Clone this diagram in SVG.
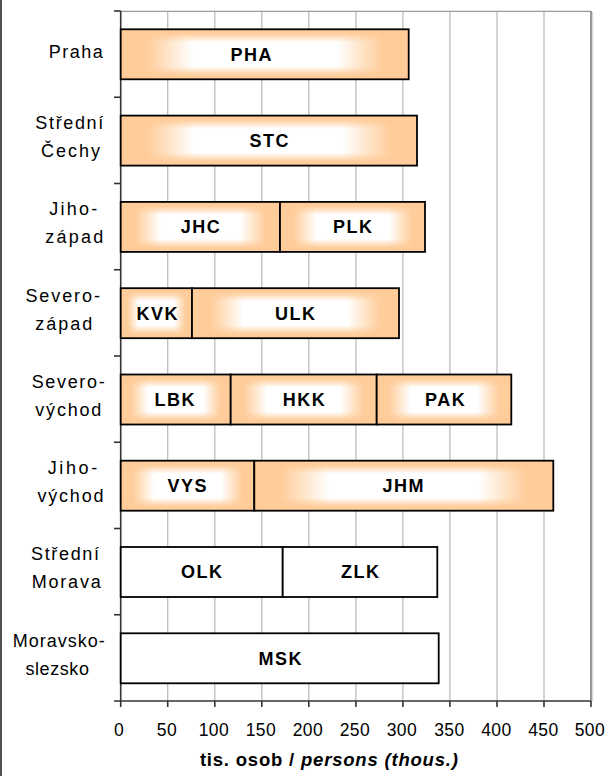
<svg xmlns="http://www.w3.org/2000/svg" width="612" height="776" viewBox="0 0 612 776">
<style>
text{font-family:"Liberation Sans",Arial,sans-serif;fill:#000}
.cat{font-size:18px;text-anchor:middle}
.num{font-size:17.5px;text-anchor:middle;letter-spacing:0.5px}
.lbl{font-size:18px;font-weight:bold;text-anchor:middle;letter-spacing:1.5px}
.title{font-size:18.5px;font-weight:bold;text-anchor:middle;letter-spacing:0.8px}
.grid line{stroke:#BDBDBD;stroke-width:1.3}
.base{fill:url(#gh)}
.over{fill:url(#gv);stroke:#000;stroke-width:1.8}
.plain{fill:#fff;stroke:#000;stroke-width:1.8}
.axis line{stroke:#333;stroke-width:1.6}
</style>
<defs>
<linearGradient id="gh" x1="0" y1="0" x2="1" y2="0">
<stop offset="0" stop-color="#FFCC99"/>
<stop offset="0.09" stop-color="#FFCD9B"/>
<stop offset="0.17" stop-color="#FFE6CC"/>
<stop offset="0.25" stop-color="#FFFFFF"/>
<stop offset="0.75" stop-color="#FFFFFF"/>
<stop offset="0.83" stop-color="#FFE6CC"/>
<stop offset="0.91" stop-color="#FFCD9B"/>
<stop offset="1" stop-color="#FFCC99"/>
</linearGradient>
<linearGradient id="gv" x1="0" y1="0" x2="0" y2="1">
<stop offset="0" stop-color="#FFCC99" stop-opacity="1"/>
<stop offset="0.09" stop-color="#FFCC99" stop-opacity="0.95"/>
<stop offset="0.26" stop-color="#FFCC99" stop-opacity="0"/>
<stop offset="0.74" stop-color="#FFCC99" stop-opacity="0"/>
<stop offset="0.91" stop-color="#FFCC99" stop-opacity="0.95"/>
<stop offset="1" stop-color="#FFCC99" stop-opacity="1"/>
</linearGradient>
</defs>
<rect x="0" y="0" width="612" height="776" fill="#fff"/>
<line x1="1" y1="0" x2="1" y2="776" stroke="#505050" stroke-width="2"/>

<g id="plot-frame">
<g class="grid">
<line x1="167.7" y1="11" x2="167.7" y2="701"/>
<line x1="214.8" y1="11" x2="214.8" y2="701"/>
<line x1="261.8" y1="11" x2="261.8" y2="701"/>
<line x1="308.8" y1="11" x2="308.8" y2="701"/>
<line x1="355.9" y1="11" x2="355.9" y2="701"/>
<line x1="402.9" y1="11" x2="402.9" y2="701"/>
<line x1="449.9" y1="11" x2="449.9" y2="701"/>
<line x1="497.0" y1="11" x2="497.0" y2="701"/>
<line x1="544.0" y1="11" x2="544.0" y2="701"/>
</g>
<line x1="120.7" y1="11.3" x2="591" y2="11.3" stroke="#9A9A9A" stroke-width="1.2"/>
<line x1="592.6" y1="12" x2="592.6" y2="701" stroke="#D8D8D8" stroke-width="1.2"/>
<line x1="591" y1="11" x2="591" y2="701" stroke="#808080" stroke-width="1.6"/>
</g>

<g id="axes" class="axis">
<line x1="120.7" y1="11" x2="120.7" y2="701"/>
<line x1="114" y1="701" x2="591" y2="701"/>
<line x1="114" y1="11" x2="120.7" y2="11"/>
<line x1="114" y1="97.25" x2="120.7" y2="97.25"/>
<line x1="114" y1="183.5" x2="120.7" y2="183.5"/>
<line x1="114" y1="269.75" x2="120.7" y2="269.75"/>
<line x1="114" y1="356" x2="120.7" y2="356"/>
<line x1="114" y1="442.25" x2="120.7" y2="442.25"/>
<line x1="114" y1="528.5" x2="120.7" y2="528.5"/>
<line x1="114" y1="614.75" x2="120.7" y2="614.75"/>
<line x1="120.7" y1="701" x2="120.7" y2="707"/>
<line x1="167.7" y1="701" x2="167.7" y2="707"/>
<line x1="214.8" y1="701" x2="214.8" y2="707"/>
<line x1="261.8" y1="701" x2="261.8" y2="707"/>
<line x1="308.8" y1="701" x2="308.8" y2="707"/>
<line x1="355.9" y1="701" x2="355.9" y2="707"/>
<line x1="402.9" y1="701" x2="402.9" y2="707"/>
<line x1="449.9" y1="701" x2="449.9" y2="707"/>
<line x1="497.0" y1="701" x2="497.0" y2="707"/>
<line x1="544.0" y1="701" x2="544.0" y2="707"/>
<line x1="591" y1="701" x2="591" y2="707"/>
</g>

<g id="connectors"></g>

<g id="seg-PHA"><rect class="base" x="120.7" y="29.3" width="288" height="50"/><rect class="over" x="120.7" y="29.3" width="288" height="50"/><text class="lbl" x="251.7" y="60.6">PHA</text></g>
<g id="seg-STC"><rect class="base" x="120.7" y="115.6" width="296.3" height="50"/><rect class="over" x="120.7" y="115.6" width="296.3" height="50"/><text class="lbl" x="269.7" y="146.9">STC</text></g>
<g id="seg-JHC"><rect class="base" x="120.7" y="201.9" width="159.3" height="50"/><rect class="over" x="120.7" y="201.9" width="159.3" height="50"/><text class="lbl" x="201" y="233.2">JHC</text></g>
<g id="seg-PLK"><rect class="base" x="280" y="201.9" width="145" height="50"/><rect class="over" x="280" y="201.9" width="145" height="50"/><text class="lbl" x="353.2" y="233.2">PLK</text></g>
<g id="seg-KVK"><rect class="base" x="120.7" y="288.2" width="71.3" height="50"/><rect class="over" x="120.7" y="288.2" width="71.3" height="50"/><text class="lbl" x="157.7" y="319.5">KVK</text></g>
<g id="seg-ULK"><rect class="base" x="192" y="288.2" width="207" height="50"/><rect class="over" x="192" y="288.2" width="207" height="50"/><text class="lbl" x="295.7" y="319.5">ULK</text></g>
<g id="seg-LBK"><rect class="base" x="120.7" y="374.5" width="110" height="50"/><rect class="over" x="120.7" y="374.5" width="110" height="50"/><text class="lbl" x="175.2" y="405.8">LBK</text></g>
<g id="seg-HKK"><rect class="base" x="230.7" y="374.5" width="146" height="50"/><rect class="over" x="230.7" y="374.5" width="146" height="50"/><text class="lbl" x="304.4" y="405.8">HKK</text></g>
<g id="seg-PAK"><rect class="base" x="376.7" y="374.5" width="134.6" height="50"/><rect class="over" x="376.7" y="374.5" width="134.6" height="50"/><text class="lbl" x="445.7" y="405.8">PAK</text></g>
<g id="seg-VYS"><rect class="base" x="120.7" y="460.7" width="133.6" height="50"/><rect class="over" x="120.7" y="460.7" width="133.6" height="50"/><text class="lbl" x="187.7" y="492">VYS</text></g>
<g id="seg-JHM"><rect class="base" x="254.3" y="460.7" width="299" height="50"/><rect class="over" x="254.3" y="460.7" width="299" height="50"/><text class="lbl" x="403.7" y="492">JHM</text></g>
<g id="seg-OLK"><rect class="plain" x="120.7" y="547" width="162" height="50"/><text class="lbl" x="202.2" y="578.3">OLK</text></g>
<g id="seg-ZLK"><rect class="plain" x="282.7" y="547" width="154.6" height="50"/><text class="lbl" x="360.7" y="578.3">ZLK</text></g>
<g id="seg-MSK"><rect class="plain" x="120.7" y="633.3" width="318" height="50"/><text class="lbl" x="280.7" y="664.6">MSK</text></g>

<g id="cat-praha"><text class="cat" x="75.7" y="57.7" textLength="54" lengthAdjust="spacing">Praha</text></g>
<g id="cat-stredni-cechy"><text class="cat" x="69.3" y="129.1" textLength="68" lengthAdjust="spacing">Střední</text><text class="cat" x="70.5" y="157.1" textLength="59" lengthAdjust="spacing">Čechy</text></g>
<g id="cat-jihozapad"><text class="cat" x="73.3" y="215.3" textLength="48" lengthAdjust="spacing">Jiho-</text><text class="cat" x="74.3" y="243.3" textLength="58" lengthAdjust="spacing">západ</text></g>
<g id="cat-severozapad"><text class="cat" x="62.7" y="301.6" textLength="74.5" lengthAdjust="spacing">Severo-</text><text class="cat" x="63.8" y="329.6" textLength="57" lengthAdjust="spacing">západ</text></g>
<g id="cat-severovychod"><text class="cat" x="68.2" y="387.8" textLength="73" lengthAdjust="spacing">Severo-</text><text class="cat" x="68.3" y="415.8" textLength="66" lengthAdjust="spacing">východ</text></g>
<g id="cat-jihovychod"><text class="cat" x="72.5" y="474.1" textLength="49.5" lengthAdjust="spacing">Jiho-</text><text class="cat" x="70.5" y="502.1" textLength="66" lengthAdjust="spacing">východ</text></g>
<g id="cat-stredni-morava"><text class="cat" x="65" y="560.3" textLength="68" lengthAdjust="spacing">Střední</text><text class="cat" x="66.2" y="588.3" textLength="69" lengthAdjust="spacing">Morava</text></g>
<g id="cat-moravskoslezsko"><text class="cat" x="58.7" y="646.6" textLength="92" lengthAdjust="spacing">Moravsko-</text><text class="cat" x="57.2" y="674.6" textLength="63.5" lengthAdjust="spacing">slezsko</text></g>

<g id="x-labels">
<text class="num" x="119" y="735.5">0</text>
<text class="num" x="167" y="735.5">50</text>
<text class="num" x="214" y="735.5">100</text>
<text class="num" x="261" y="735.5">150</text>
<text class="num" x="308" y="735.5">200</text>
<text class="num" x="355" y="735.5">250</text>
<text class="num" x="402" y="735.5">300</text>
<text class="num" x="449.5" y="735.5">350</text>
<text class="num" x="496.5" y="735.5">400</text>
<text class="num" x="543.5" y="735.5">450</text>
<text class="num" x="590" y="735.5">500</text>
</g>
<g id="x-title"><text class="title" x="329.3" y="765.5">tis. osob / <tspan font-style="italic">persons (thous.)</tspan></text></g>
</svg>
